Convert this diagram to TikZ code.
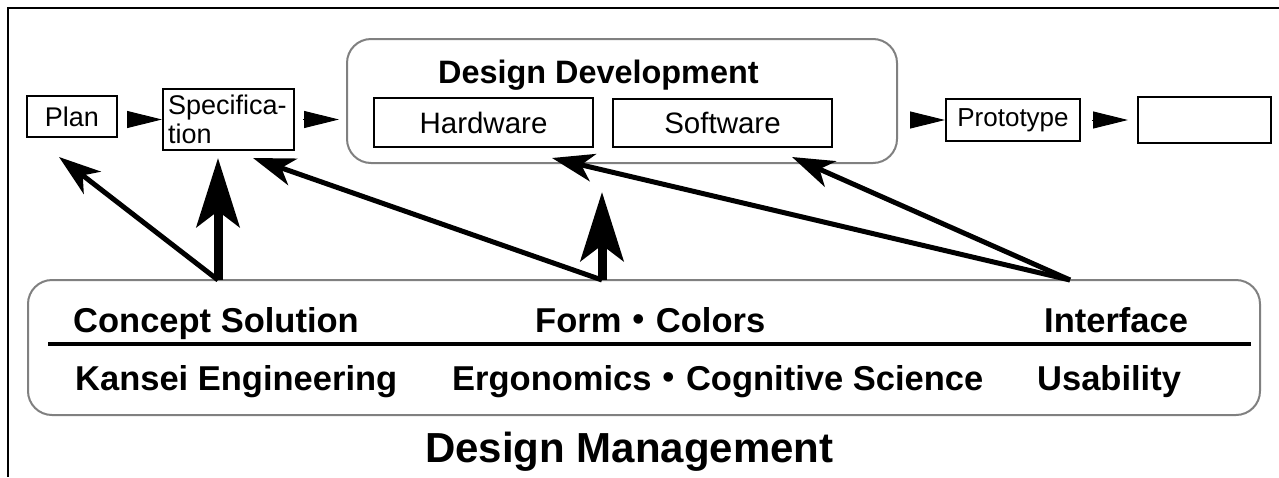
\documentclass[tikz,border=0pt]{standalone}
\usepackage{fontspec}
\setmainfont{Liberation Sans}
\newfontfamily\cjk{Noto Sans CJK JP}
\usetikzlibrary{arrows.meta}
\definecolor{groupgray}{RGB}{128,128,128}

\begin{document}
\begin{tikzpicture}[x=1pt,y=-1pt,
  stepbox/.style={draw, line width=2pt, inner sep=0pt, font=\fontsize{27}{29.5}\selectfont},
  grpbox/.style={draw=groupgray, line width=2pt, rounded corners=24pt, inner sep=0pt},
  flowarrow/.style={-{Triangle[length=35pt,width=17pt]}, line width=1pt},
  feedarrow/.style={-{Stealth[length=42pt,width=28pt,inset=12pt]}, line width=5pt},
  mainarrow/.style={-{Stealth[length=69pt,width=43pt,inset=16pt]}, line width=9pt},
  headlabel/.style={font=\fontsize{34.5}{40}\selectfont\bfseries, anchor=base west, inner sep=0pt},
]
\useasboundingbox (0,0) rectangle (1279,477);

% outer frame
\draw[line width=2pt] (1279,8) -- (8,8) -- (8,477);

% process chain
\node[stepbox, minimum width=90pt, minimum height=41pt] (plan) at (72,116.5) {Plan};
\node[stepbox, minimum width=131pt, minimum height=61pt, text width=121pt, align=left] (spec) at (228.5,119.5) {Specifica-\\tion};
\node[grpbox, minimum width=550pt, minimum height=124pt] (dd) at (622,101) {};
\node[anchor=base west, inner sep=0pt, font=\fontsize{32.4}{38}\selectfont\bfseries] (ddtitle) at (438,83) {Design Development};
\node[stepbox, minimum width=219pt, minimum height=49pt, font=\fontsize{29.5}{32}\selectfont] (hw) at (483.5,122.5) {Hardware};
\node[stepbox, minimum width=219pt, minimum height=48pt, font=\fontsize{29.5}{32}\selectfont] (sw) at (722.5,123) {Software};
\node[stepbox, minimum width=134pt, minimum height=42pt, font=\fontsize{26}{29}\selectfont] (proto) at (1013,120) {Prototype};
\node[stepbox, minimum width=133pt, minimum height=46pt] (final) at (1204.5,120) {};

\draw[flowarrow, shorten <=10pt] (plan.east |- spec.west) -- (spec.west);
\draw[flowarrow, shorten <=8pt, shorten >=7pt] (spec.east) -- (spec.east -| dd.west);
\draw[flowarrow, shorten <=13pt] (proto.west -| dd.east) -- (proto.west);
\draw[flowarrow, shorten <=11pt, shorten >=9pt] (proto.east) -- (final.west);

% design management block
\node[grpbox, minimum width=1232pt, minimum height=135pt] (dm) at (644,347.5) {};
\node[headlabel] (concept) at (73,332) {Concept Solution};
\node[headlabel] (form) at (535,332) {Form{\cjk ・}Colors};
\node[headlabel] (iface) at (1044,332) {Interface};
\draw[line width=4pt] (48,344) -- (1251,344);
\node[headlabel] (kansei) at (75,390) {Kansei Engineering};
\node[headlabel] (ergo) at (452,390) {Ergonomics{\cjk ・}Cognitive Science};
\node[headlabel] (usab) at (1037,390) {Usability};
\node[anchor=base west, inner sep=0pt, font=\fontsize{42}{48}\selectfont\bfseries] (dmtitle) at (425,462) {Design Management};

% contributions of design management
\coordinate (srcA) at (218,280);
\coordinate (srcB) at (602,280);
\coordinate (srcC) at (1070,280);
\coordinate (tipPlan) at (59,157);
\coordinate (tipSpec) at (253,158);
\coordinate (tipHw) at (552,158);
\coordinate (tipSw) at (792,157);
\coordinate (tipDD) at (602,192);

\draw[feedarrow] (srcA) -- (tipPlan);
\draw[mainarrow] (srcA) -- (srcA |- tipSpec);
\draw[feedarrow] (srcB) -- (tipSpec);
\draw[mainarrow] (srcB) -- (tipDD);
\draw[feedarrow] (srcC) -- (tipHw);
\draw[feedarrow] (srcC) -- (tipSw);
\end{tikzpicture}
\end{document}
